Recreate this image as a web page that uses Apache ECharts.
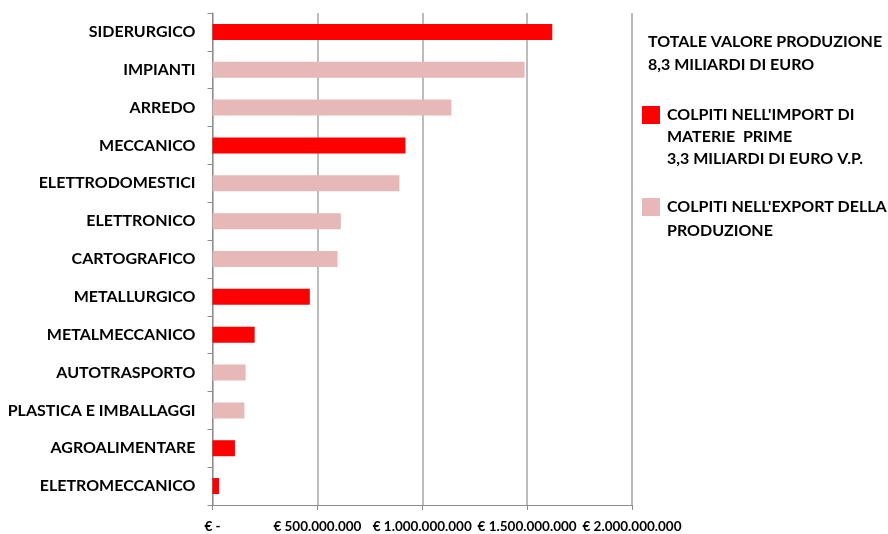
<!DOCTYPE html>
<html>
<head>
<meta charset="utf-8">
<script src="https://cdn.jsdelivr.net/npm/echarts@6/dist/echarts.min.js"></script>
<style>html,body{margin:0;padding:0;background:#fff}#c{width:888px;height:534px}</style>
</head>
<body>
<div id="c"></div>
<script>
const categories = ['SIDERURGICO','IMPIANTI','ARREDO','MECCANICO','ELETTRODOMESTICI','ELETTRONICO','CARTOGRAFICO','METALLURGICO','METALMECCANICO','AUTOTRASPORTO','PLASTICA E IMBALLAGGI','AGROALIMENTARE','ELETROMECCANICO'];
const importValues = [1620000000, null, null, 920000000, null, null, null, 464000000, 201000000, null, null, 107000000, 31000000];
const exportValues = [null, 1488000000, 1139000000, null, 891000000, 612000000, 596000000, null, null, 158000000, 152000000, null, null];
const xTicks = [0, 500000000, 1000000000, 1500000000, 2000000000];
const importName = "COLPITI NELL'IMPORT DI";
const importExtra = "MATERIE  PRIME\n3,3 MILIARDI DI EURO V.P.";
const exportName = "COLPITI NELL'EXPORT DELLA";
const exportExtra = "PRODUZIONE";
const titleText = "TOTALE VALORE PRODUZIONE\n8,3 MILIARDI DI EURO";

function fmtEuro(v){
  if (v === 0) return '€ -';
  return '€ ' + String(Math.round(v)).replace(/\B(?=(\d{3})+(?!\d))/g, '.');
}
const FONT = 'Lato';
const chart = echarts.init(document.getElementById('c'));
chart.setOption({
  animation: false,
  backgroundColor: '#fff',
  title: {
    text: titleText, left: 648, top: 30, padding: 0,
    textStyle: {fontFamily: FONT, fontWeight: 'bold', fontSize: 16, color: '#000', lineHeight: 23}
  },
  legend: {
    orient: 'vertical', left: 642, top: 106, padding: 0,
    itemWidth: 18, itemHeight: 18, itemGap: 74,
    icon: 'rect',
    data: [importName, exportName],
    textStyle: {fontFamily: FONT, fontWeight: 'bold', fontSize: 16, color: '#000', padding: [0,0,0,2]},
    itemStyle: {borderWidth: 0}
  },
  graphic: [
    {type: 'text', left: 667, top: 126, style: {text: importExtra, font: 'bold 16px ' + FONT, fill: '#000', lineHeight: 22}},
    {type: 'text', left: 667, top: 220, style: {text: exportExtra, font: 'bold 16px ' + FONT, fill: '#000', lineHeight: 22}}
  ],
  grid: {left: 212.5, right: 256, top: 13, bottom: 29, containLabel: false},
  xAxis: {
    type: 'value', min: xTicks[0], max: xTicks[xTicks.length-1], interval: xTicks[1]-xTicks[0],
    axisLine: {show: true, lineStyle: {color: '#8c8c8c', width: 1}},
    axisTick: {show: true, length: 5, lineStyle: {color: '#8c8c8c'}},
    splitLine: {show: true, lineStyle: {color: '#a6a6a6', width: 1.5}},
    axisLabel: {formatter: fmtEuro, fontFamily: FONT, fontWeight: 'bold', fontSize: 13.5, color: '#000', margin: 15}
  },
  yAxis: {
    type: 'category', data: categories, inverse: true,
    axisLine: {show: true, lineStyle: {color: '#8c8c8c', width: 1}},
    axisTick: {show: true, length: 5, lineStyle: {color: '#8c8c8c'}},
    axisLabel: {fontFamily: FONT, fontWeight: 'bold', fontSize: 16, color: '#000', margin: 17}
  },
  series: [
    {name: importName, type: 'bar', stack: 's', data: importValues, barWidth: 16,
     itemStyle: {color: '#ff0000'}},
    {name: exportName, type: 'bar', stack: 's', data: exportValues, barWidth: 16,
     itemStyle: {color: '#e6b8b7'}}
  ]
});
</script>
</body>
</html>
